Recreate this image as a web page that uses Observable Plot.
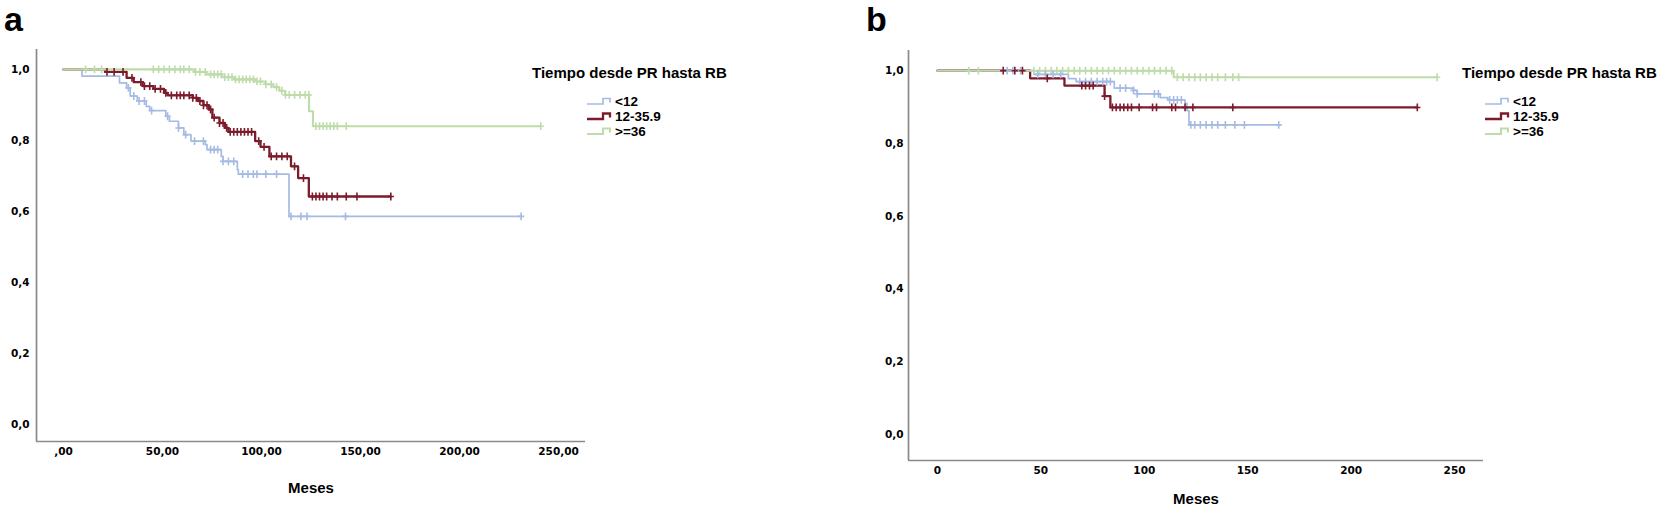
<!DOCTYPE html>
<html><head><meta charset="utf-8">
<script src="https://cdn.jsdelivr.net/npm/d3@7"></script>
<script src="https://cdn.jsdelivr.net/npm/@observablehq/plot@0.6"></script>
<style>
html,body{margin:0;padding:0;background:#fff}
body{width:1675px;height:513px;position:relative;overflow:hidden;font-family:"Liberation Sans",Arial,sans-serif;color:#000}
.panel{position:absolute;top:0}
.panel svg{display:block;background:transparent;max-width:none}
.letter{position:absolute;font-weight:bold;font-size:34px;line-height:34px;top:2px}
.legend{position:absolute;top:0;font-weight:bold}
.ltitle{position:absolute;top:64px;font-size:15px;line-height:18px;white-space:nowrap}
.litem{position:absolute;font-size:13.5px;line-height:15px;white-space:nowrap}
.litem svg{position:absolute;top:2px}
</style></head><body>
<div id="pa" class="panel" style="left:0px"></div>
<div id="pb" class="panel" style="left:850px"></div>
<div class="letter" style="left:4px">a</div>
<div class="letter" style="left:866px">b</div>
<div id="la" class="legend" style="left:532px"></div>
<div id="lb" class="legend" style="left:1462px"></div>
<script>
// ---------- data ----------
const groups = ["<12", "12-35.9", ">=36"];
const colors = ["#a6bbe4", "#7b1b2c", "#bedcaa"];
const lineWidths = [1.7, 2.3, 2.1];
const legendTitle = "Tiempo desde PR hasta RB";
const xLabel = "Meses";
const yTicks = [0, 0.2, 0.4, 0.6, 0.8, 1.0];
const xTicks = [0, 50, 100, 150, 200, 250];

// Panel a: Kaplan-Meier steps (time, survival)
const aT_lt12 = [0, 9.4, 28.3, 31.9, 33.7, 37.3, 41.8, 43.6, 51.7, 53.5, 58.1, 60.8, 64.4, 71.6, 72.5, 79.7, 80.6, 87.8, 88.3, 113.9, 231.1];
const aS_lt12 = [1, 0.981, 0.962, 0.948, 0.925, 0.911, 0.896, 0.884, 0.868, 0.854, 0.835, 0.816, 0.798, 0.788, 0.774, 0.755, 0.741, 0.718, 0.705, 0.586, 0.586];
const aT_mid = [0, 21.1, 31.9, 35.5, 40.0, 45.4, 50.8, 52.6, 65.3, 68.0, 70.7, 73.4, 75.2, 78.8, 81.5, 83.3, 96.8, 99.5, 104.0, 114.9, 118.5, 123.9, 165.3];
const aS_mid = [1, 0.993, 0.976, 0.964, 0.953, 0.945, 0.934, 0.927, 0.920, 0.911, 0.899, 0.887, 0.864, 0.849, 0.835, 0.824, 0.798, 0.782, 0.755, 0.727, 0.694, 0.642, 0.642];
const aT_ge36 = [0, 66, 72, 80, 86, 97, 102, 106, 109, 112, 124, 126, 241];
const aS_ge36 = [1, 0.993, 0.986, 0.978, 0.972, 0.966, 0.958, 0.950, 0.940, 0.928, 0.882, 0.840, 0.840];
// Panel a: censored times
const aC_lt12 = [32.8, 35.5, 38.2, 40.9, 44.5, 52.6, 58.1, 61.7, 66.2, 70.7, 74.3, 76.1, 77.9, 80.6, 83.3, 86.0, 90.5, 93.2, 95.9, 97.7, 102.2, 107.6, 114.9, 119.9, 123.0, 142.4, 231.1];
const aC_mid = [22.0, 25.6, 30.1, 34.6, 39.1, 40.9, 43.6, 46.3, 49.0, 51.7, 54.5, 57.2, 59.0, 60.8, 63.5, 65.3, 67.1, 68.9, 70.7, 72.5, 74.3, 76.1, 78.8, 80.6, 82.4, 84.2, 86.0, 87.8, 89.6, 91.4, 93.2, 95.0, 98.6, 101.3, 104.9, 107.6, 110.3, 113.0, 116.7, 121.2, 125.7, 127.5, 129.3, 131.1, 132.9, 135.6, 138.3, 142.8, 148.2, 165.3];
const aC_ge36 = [11.2, 15.7, 19.3, 45.4, 48.1, 50.8, 53.5, 56.3, 59.0, 60.8, 63.5, 66.7, 68.9, 71.6, 74.3, 76.1, 77.9, 79.7, 81.5, 83.3, 85.1, 86.9, 88.7, 90.5, 92.3, 94.1, 95.9, 97.7, 99.5, 102.2, 104.9, 107.6, 110.3, 112.1, 114.0, 116.7, 119.4, 122.1, 123.9, 127.5, 129.3, 131.1, 132.9, 134.7, 136.5, 138.3, 142.8, 241];

// Panel b: Kaplan-Meier steps
const bT_lt12 = [0, 46.6, 63.3, 67.0, 85.5, 94.8, 96.6, 107.7, 111.4, 119.7, 120.6, 121.6, 165.0];
const bS_lt12 = [1, 0.990, 0.978, 0.970, 0.952, 0.946, 0.936, 0.926, 0.920, 0.910, 0.890, 0.851, 0.851];
const bT_mid = [0, 44.8, 61.4, 80.8, 83.6, 232];
const bS_mid = [1, 0.979, 0.959, 0.930, 0.899, 0.899];
const bT_ge36 = [0, 114.2, 241.6];
const bS_ge36 = [1, 0.982, 0.982];
// Panel b: censored times
const bC_lt12 = [33.7, 36.5, 40.2, 48.5, 52.2, 55.9, 59.6, 68.8, 71.6, 74.4, 77.2, 79.9, 81.8, 83.6, 88.3, 91.0, 94.8, 96.6, 104.9, 106.8, 112.3, 114.2, 116.0, 117.9, 122.5, 124.4, 127.1, 129.9, 132.7, 135.5, 139.2, 143.8, 148.4, 165.0];
const bC_mid = [31.8, 37.4, 41.1, 53.1, 69.8, 71.6, 73.5, 75.3, 80.8, 84.6, 86.4, 88.3, 90.1, 92.0, 93.8, 97.5, 104.0, 105.9, 113.3, 115.1, 119.7, 123.5, 142.8, 232];
const bC_ge36 = [15.2, 19.8, 46.6, 49.4, 52.2, 55.0, 57.7, 60.5, 63.3, 66.1, 68.8, 71.6, 74.4, 77.2, 79.9, 82.7, 85.5, 88.3, 91.0, 93.8, 96.6, 99.4, 102.2, 104.9, 107.7, 110.5, 113.3, 116.0, 118.8, 121.6, 124.4, 127.1, 129.9, 132.7, 135.5, 139.2, 142.8, 145.6, 241.6];

// ---------- build ----------
const panels = {
  a: {T: [aT_lt12, aT_mid, aT_ge36], S: [aS_lt12, aS_mid, aS_ge36], C: [aC_lt12, aC_mid, aC_ge36]},
  b: {T: [bT_lt12, bT_mid, bT_ge36], S: [bS_lt12, bS_mid, bS_ge36], C: [bC_lt12, bC_mid, bC_ge36]}
};
function surv(T, S, t) { const i = d3.bisectRight(T, t) - 1; return S[Math.max(0, i)]; }
const plusSym = {draw(ctx, size) { const r = Math.sqrt(size); ctx.moveTo(0, -r); ctx.lineTo(0, r); ctx.moveTo(-r * 0.8, 0); ctx.lineTo(r * 0.8, 0); }};
const yFmt = d => d.toFixed(1).replace(".", ",");

function build(p, cfg) {
  const marks = [
    Plot.axisX({ticks: xTicks, tickFormat: cfg.xFmt, tickSize: 0, tickPadding: 6, label: null}),
    Plot.axisY({ticks: yTicks, tickFormat: yFmt, tickSize: 0, tickPadding: cfg.yPad, label: null}),
    Plot.ruleX([cfg.xDomain[0]], {stroke: "#8a8a8a", strokeWidth: 1.7}),
    Plot.ruleY([cfg.yDomain[0]], {stroke: "#8a8a8a", strokeWidth: 1.7})
  ];
  groups.forEach((g, k) => {
    const rows = p.T[k].map((t, i) => ({t, s: p.S[k][i]}));
    marks.push(Plot.line(rows, {x: "t", y: "s", curve: "step-after", stroke: colors[k], strokeWidth: lineWidths[k]}));
  });
  [2, 0, 1].forEach(k => {
    const rows = p.C[k].map(t => ({t, s: surv(p.T[k], p.S[k], t)}));
    marks.push(Plot.dot(rows, {x: "t", y: "s", symbol: plusSym, r: 2.2, stroke: colors[k], fill: "none", strokeWidth: 1.6}));
  });
  marks.push(Plot.text([xLabel], {frameAnchor: "bottom", dy: cfg.labelDy, fontSize: 15, fontFamily: "Liberation Sans", fontWeight: "bold", fill: "#000"}));
  return Plot.plot({
    width: cfg.width, height: 513,
    marginLeft: cfg.ml, marginRight: cfg.mr, marginTop: cfg.mt, marginBottom: cfg.mb,
    x: {domain: cfg.xDomain}, y: {domain: cfg.yDomain},
    style: {fontFamily: "DejaVu Sans", fontSize: "10.5px", fontWeight: "bold", background: "transparent", color: "#000", maxWidth: "none"},
    marks
  });
}

document.getElementById("pa").appendChild(build(panels.a, {
  width: 600, ml: 36, mr: 15, mt: 49, mb: 72,
  xDomain: [-13.6, 263.6], yDomain: [-0.048, 1.056], yPad: 7, labelDy: 51,
  xFmt: d => (d === 0 ? "" : String(d)) + ",00"
}));
document.getElementById("pb").appendChild(build(panels.b, {
  width: 650, ml: 58, mr: 17, mt: 50, mb: 53,
  xDomain: [-14.0, 264.0], yDomain: [-0.0715, 1.0555], yPad: 5, labelDy: 43,
  xFmt: d => String(d)
}));

function legend(id, symOffset, textOffset) {
  const el = document.getElementById(id);
  const t = document.createElement("div");
  t.className = "ltitle"; t.textContent = legendTitle; t.style.left = "0px";
  el.appendChild(t);
  groups.forEach((g, k) => {
    const it = document.createElement("div");
    it.className = "litem";
    it.style.top = (93.5 + 15 * k) + "px";
    it.style.left = symOffset + "px";
    const ns = "http://www.w3.org/2000/svg";
    const svg = document.createElementNS(ns, "svg");
    svg.setAttribute("width", 26); svg.setAttribute("height", 10);
    svg.style.left = "0px";
    const path = document.createElementNS(ns, "path");
    path.setAttribute("d", "M0,8H16V2.5H23V6.5");
    path.setAttribute("fill", "none");
    path.setAttribute("stroke", colors[k]);
    path.setAttribute("stroke-width", lineWidths[k]);
    svg.appendChild(path);
    it.appendChild(svg);
    const sp = document.createElement("span");
    sp.textContent = g;
    sp.style.position = "absolute"; sp.style.left = (textOffset - symOffset) + "px"; sp.style.top = "0px";
    it.appendChild(sp);
    el.appendChild(it);
  });
}
legend("la", 55, 83);
legend("lb", 23, 51);
</script>
</body></html>
